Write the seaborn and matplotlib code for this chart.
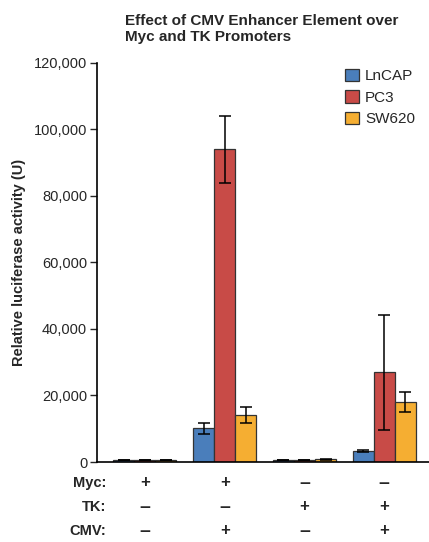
import matplotlib
matplotlib.use("Agg", force=True)
import matplotlib.pyplot as plt
import matplotlib.ticker as mticker
import pandas as pd
import seaborn as sns

conditions = ["A", "B", "C", "D"]
cell_lines = ["LnCAP", "PC3", "SW620"]
means = {
    "LnCAP": [700, 10100, 600, 3300],
    "PC3": [700, 94000, 600, 27000],
    "SW620": [700, 14100, 800, 18000],
}
errors = {
    "LnCAP": [40, 1700, 40, 350],
    "PC3": [40, 10000, 40, 17300],
    "SW620": [40, 2300, 80, 3000],
}
row_labels = ["Myc:", "TK:", "CMV:"]
row_signs = [
    ["+", "+", "–", "–"],
    ["–", "–", "+", "+"],
    ["–", "+", "–", "+"],
]
colors = ["#4a7ebb", "#c84b47", "#f5ae32"]

sns.set_style("white")
plt.rcParams["font.family"] = ["Liberation Sans", "DejaVu Sans"]

df = pd.DataFrame(
    [(c, line, means[line][i]) for line in cell_lines for i, c in enumerate(conditions)],
    columns=["condition", "line", "value"],
)

fig = plt.figure(figsize=(4.29, 5.42), dpi=100)
ax = fig.add_axes([0.226, 0.1476, 0.774, 0.7362])
sns.barplot(data=df, x="condition", y="value", hue="line", palette=colors, saturation=1,
            errorbar=None, width=0.79, edgecolor="#333333", linewidth=0.9, ax=ax)

for container, line in zip(ax.containers, cell_lines):
    xs = [b.get_x() + b.get_width() / 2 for b in container]
    ax.errorbar(xs, means[line], yerr=errors[line], fmt="none", ecolor="black",
                elinewidth=1.1, capsize=4.3, capthick=1.1)

ax.set_xlim(-0.6, 3.56)
ax.set_ylim(0, 120000)
ax.yaxis.set_major_locator(mticker.MultipleLocator(20000))
ax.yaxis.set_major_formatter(mticker.StrMethodFormatter("{x:,.0f}"))
ax.tick_params(axis="y", direction="out", length=5, width=1, labelsize=10.5, pad=2, left=True)
ax.set_xticks([])
ax.set_xlabel("")
ax.set_ylabel("Relative luciferase activity (U)", fontsize=10.5, fontweight="bold", labelpad=6)
for side in ["top", "right"]:
    ax.spines[side].set_visible(False)
for side in ["left", "bottom"]:
    ax.spines[side].set_color("black")
    ax.spines[side].set_linewidth(1.2)

handles, labels = ax.get_legend_handles_labels()
ax.legend(handles, labels, loc="upper right", bbox_to_anchor=(1.0, 1.02), frameon=False,
          handlelength=0.9, handleheight=0.9, handletextpad=0.4, labelspacing=0.45, fontsize=11)

fig.text(0.291, 0.975, "Effect of CMV Enhancer Element over\nMyc and TK Promoters",
         ha="left", va="top", fontsize=11, fontweight="bold", linespacing=1.25)

row_y = [483, 507, 531]
for label, signs, py in zip(row_labels, row_signs, row_y):
    yf = 1 - py / 542
    fig.text(106 / 429, yf, label, ha="right", va="center", fontsize=10.5, fontweight="bold")
    for i, s in enumerate(signs):
        xd = ax.transData.transform((i, 0))[0]
        xf = fig.transFigure.inverted().transform((xd, 0))[0]
        fig.text(xf, yf, s, ha="center", va="center", fontsize=14 if s == "–" else 12,
                 fontweight="bold")

fig.savefig("out.png", dpi=100)
